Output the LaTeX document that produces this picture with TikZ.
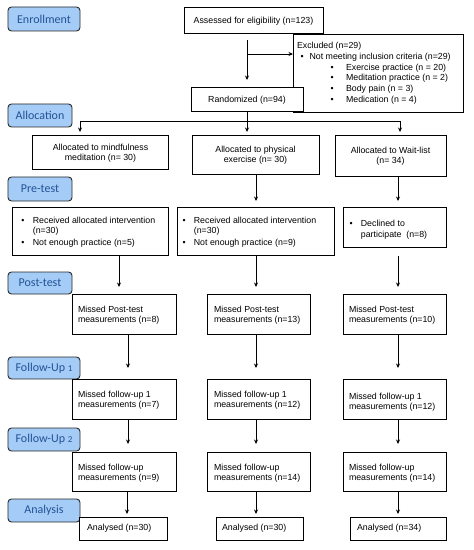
\documentclass[tikz,border=0pt]{standalone}
\usepackage{fontspec}
\setmainfont{Liberation Sans}
\newfontfamily\labfont{Carlito}
\usetikzlibrary{arrows.meta}
\definecolor{labfill}{RGB}{164,204,247}
\definecolor{labtext}{RGB}{36,82,150}
\definecolor{labdraw}{RGB}{40,40,40}
\begin{document}
\begin{tikzpicture}[x=1bp,y=-1bp,
  every node/.style={inner sep=0pt, outer sep=0pt, font=\fontsize{8.8bp}{10.2bp}\selectfont},
  box/.style={draw=black, line width=1bp, fill=white, align=center},
  txt/.style={anchor=west, align=left},
  lab/.style={draw=labdraw, line width=0.9bp, fill=labfill, rounded corners=3.5bp,
     text=labtext, font=\labfont\fontsize{12bp}{14bp}\selectfont},
  arr/.style={line width=0.8bp, -{Stealth[length=4.5bp,width=4bp]}},
  ln/.style={line width=0.8bp}]
\useasboundingbox (0,0) rectangle (474,550);
\newcommand{\bul}{\textbullet}
% column coordinates
\coordinate (cm) at (247,0);
\coordinate (cl) at (80,0);
\coordinate (cr) at (400,0);
\coordinate (c1a) at (119,0);
\coordinate (c1b) at (128,0);
\coordinate (c1c) at (127,0);
\coordinate (c2) at (256,0);
\coordinate (c3) at (398,0);

% stage labels
\node[lab, minimum width=72bp, minimum height=24bp] (Lenr) at (44,19) {Enrollment};
\node[lab, minimum width=64bp, minimum height=23bp] (Lall) at (40,115.5) {Allocation};
\node[lab, minimum width=64bp, minimum height=24bp] (Lpre) at (40,189) {Pre-test};
\node[lab, minimum width=64bp, minimum height=22bp] (Lpost) at (40,283) {Post-test};
\node[lab, minimum width=72bp, minimum height=22bp] (Lfu1) at (44,368) {Follow-Up {\fontsize{9bp}{9bp}\selectfont 1}};
\node[lab, minimum width=72bp, minimum height=23bp] (Lfu2) at (44,439.5) {Follow-Up {\fontsize{9bp}{9bp}\selectfont 2}};
\node[lab, minimum width=72bp, minimum height=23bp] (Lana) at (44,510.5) {Analysis};

% enrollment
\node[box, minimum width=139bp, minimum height=26bp] (assess) at (253.5,21) {Assessed for eligibility (n=123)};
\node[box, minimum width=170bp, minimum height=78bp] (excl) at (378,74) {};
\node[txt, anchor=north west] (exclt) at (297,41.5) {%
  \begin{tabular}{@{}l@{}}
  Excluded (n=29)\\[0.4bp]
  \hspace{3.5bp}\bul\hspace{6bp}Not meeting inclusion criteria (n=29)\\[0.6bp]
  \hspace{33.5bp}\bul\hspace{12.5bp}Exercise practice (n = 20)\\[0.6bp]
  \hspace{33.5bp}\bul\hspace{12.5bp}Meditation practice (n = 2)\\[0.6bp]
  \hspace{33.5bp}\bul\hspace{12.5bp}Body pain (n = 3)\\[0.6bp]
  \hspace{33.5bp}\bul\hspace{12.5bp}Medication (n = 4)
  \end{tabular}};
\node[box, minimum width=112bp, minimum height=24bp] (rand) at (247,100) {Randomized (n=94)};

\coordinate (br) at (247,54);
\coordinate (jn) at (247,121);
\draw[arr, shorten <=6bp, shorten >=8bp] (assess.south -| cm) -- (rand.north -| cm);
\draw[arr] (br) -- (br -| excl.west);
\draw[ln] (rand.south -| cm) -- (jn);
\draw[ln] (jn -| cl) -- (jn -| cr);

% allocation
\node[box, minimum width=135bp, minimum height=34bp] (al1) at (100.5,153) {Allocated to mindfulness\\meditation (n= 30)};
\node[box, minimum width=127bp, minimum height=39bp] (al2) at (255.5,155.5) {Allocated to physical\\exercise (n= 30)};
\node[box, minimum width=111bp, minimum height=41bp] (al3) at (390.5,156.5) {Allocated to Wait-list\\(n= 34)};
\draw[arr, shorten >=4bp] (jn -| cl) -- (al1.north -| cl);
\draw[arr, shorten >=4bp] (jn) -- (al2.north -| cm);
\draw[arr, shorten >=4bp] (jn -| cr) -- (al3.north -| cr);

% pre-test
\node[box, minimum width=155bp, minimum height=47bp] (pre1) at (90.5,231.5) {};
\node[box, minimum width=157bp, minimum height=47bp] (pre2) at (255.5,231.5) {};
\node[box, minimum width=103bp, minimum height=39bp] (pre3) at (394.5,227.5) {};
\node[txt] (pre1t) at ([xshift=8.5bp,yshift=-0.5bp]pre1.west) {%
  \begin{tabular}{@{}l@{\hspace{8.3bp}}l@{}}
  \bul & Received allocated intervention\\
       & (n=30)\\[1.6bp]
  \bul & Not enough practice (n=5)
  \end{tabular}};
\node[txt] (pre2t) at ([xshift=5.5bp,yshift=-0.5bp]pre2.west) {%
  \begin{tabular}{@{}l@{\hspace{8.3bp}}l@{}}
  \bul & Received allocated intervention\\
       & (n=30)\\[1.6bp]
  \bul & Not enough practice (n=9)
  \end{tabular}};
\node[txt] (pre3t) at ([xshift=6.5bp,yshift=-2.5bp]pre3.west) {%
  \begin{tabular}{@{}l@{\hspace{8.3bp}}l@{}}
  \bul & Declined to\\
       & participate~ (n=8)
  \end{tabular}};
\draw[arr, shorten >=7bp] (al2.south -| c2) -- (pre2.north -| c2);
\draw[arr, shorten >=7bp] (al3.south -| c3) -- (pre3.north -| c3);

% post-test
\node[box, minimum width=104bp, minimum height=40bp] (post1) at (124,314) {};
\node[box, minimum width=103bp, minimum height=40bp] (post2) at (258.5,314) {};
\node[box, minimum width=103bp, minimum height=40bp] (post3) at (394.5,314) {};
\node[txt] (post1t) at ([xshift=6bp,yshift=-1bp]post1.west) {Missed Post-test\\measurements (n=8)};
\node[txt] (post2t) at ([xshift=7bp,yshift=-1bp]post2.west) {Missed Post-test\\measurements (n=13)};
\node[txt] (post3t) at ([xshift=6bp,yshift=-1bp]post3.west) {Missed Post-test\\measurements (n=10)};
\draw[arr, shorten >=7bp] (pre1.south -| c1a) -- (post1.north -| c1a);
\draw[arr, shorten >=7bp] (pre2.south -| c2) -- (post2.north -| c2);
\draw[arr, shorten <=9bp, shorten >=7bp] (pre3.south -| c3) -- (post3.north -| c3);

% follow-up 1
\node[box, minimum width=104bp, minimum height=40bp] (fa1) at (124,399) {};
\node[box, minimum width=103bp, minimum height=40bp] (fa2) at (258.5,399) {};
\node[box, minimum width=103bp, minimum height=40bp] (fa3) at (394.5,399) {};
\node[txt] (fa1t) at ([xshift=6bp,yshift=-1bp]fa1.west) {Missed follow-up 1\\measurements (n=7)};
\node[txt] (fa2t) at ([xshift=7bp,yshift=-1bp]fa2.west) {Missed follow-up 1\\measurements (n=12)};
\node[txt] (fa3t) at ([xshift=6bp,yshift=-3bp]fa3.west) {Missed follow-up 1\\measurements (n=12)};
\draw[arr, shorten >=11bp] (post1.south -| c1b) -- (fa1.north -| c1b);
\draw[arr, shorten >=11bp] (post2.south -| c2) -- (fa2.north -| c2);
\draw[arr, shorten >=11bp] (post3.south -| c3) -- (fa3.north -| c3);

% follow-up 2
\node[box, minimum width=104bp, minimum height=39bp] (fb1) at (124,471.5) {};
\node[box, minimum width=103bp, minimum height=39bp] (fb2) at (258.5,471.5) {};
\node[box, minimum width=103bp, minimum height=39bp] (fb3) at (394.5,471.5) {};
\node[txt] (fb1t) at ([xshift=6bp,yshift=-2bp]fb1.west) {Missed follow-up\\measurements (n=9)};
\node[txt] (fb2t) at ([xshift=7bp,yshift=-2bp]fb2.west) {Missed follow-up\\measurements (n=14)};
\node[txt] (fb3t) at ([xshift=6bp,yshift=-2bp]fb3.west) {Missed follow-up\\measurements (n=14)};
\draw[arr, shorten >=8bp] (fa1.south -| c1b) -- (fb1.north -| c1b);
\draw[arr, shorten >=8bp] (fa2.south -| c2) -- (fb2.north -| c2);
\draw[arr, shorten >=8bp] (fa3.south -| c3) -- (fb3.north -| c3);

% analysis
\node[box, minimum width=88bp, minimum height=23bp] (an1) at (123,528.5) {};
\node[box, minimum width=87bp, minimum height=23bp] (an2) at (259.5,528.5) {};
\node[box, minimum width=96bp, minimum height=23bp] (an3) at (398,528.5) {};
\node[txt] (an1t) at ([xshift=8bp]an1.west) {Analysed (n=30)};
\node[txt] (an2t) at ([xshift=6bp]an2.west) {Analysed (n=30)};
\node[txt] (an3t) at ([xshift=7bp]an3.west) {Analysed (n=34)};
\draw[arr, shorten >=3bp] (fb1.south -| c1c) -- (an1.north -| c1c);
\draw[arr, shorten >=3bp] (fb2.south -| c2) -- (an2.north -| c2);
\draw[arr, shorten >=3bp] (fb3.south -| c3) -- (an3.north -| c3);
\end{tikzpicture}
\end{document}
